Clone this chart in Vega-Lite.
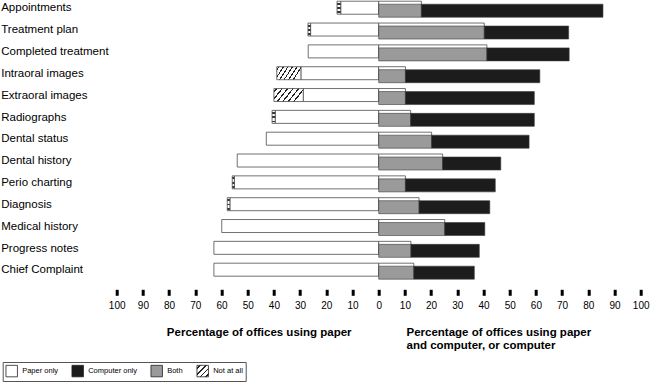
{
  "$schema": "https://vega.github.io/schema/vega-lite/v6.json",
  "width": 524,
  "height": 283.8,
  "autosize": {"type": "none"},
  "padding": {"left": 116.7, "top": 0, "right": 9.3, "bottom": 99.2},
  "background": "white",
  "config": {"view": {"stroke": null}},
  "data": {
    "values": [
      {"item": "Appointments", "category": "Paper only", "value": -14.5},
      {"item": "Appointments", "category": "Not at all", "value": -1.4},
      {"item": "Appointments", "category": "Both", "value": 16.3},
      {"item": "Appointments", "category": "Computer only", "value": 69.3},
      {"item": "Treatment plan", "category": "Paper only", "value": -26},
      {"item": "Treatment plan", "category": "Not at all", "value": -1},
      {"item": "Treatment plan", "category": "Both", "value": 40.3},
      {"item": "Treatment plan", "category": "Computer only", "value": 32.2},
      {"item": "Completed treatment", "category": "Paper only", "value": -26.9},
      {"item": "Completed treatment", "category": "Both", "value": 41.3},
      {"item": "Completed treatment", "category": "Computer only", "value": 31.4},
      {"item": "Intraoral images", "category": "Paper only", "value": -29.7},
      {"item": "Intraoral images", "category": "Not at all", "value": -9.2},
      {"item": "Intraoral images", "category": "Both", "value": 10.2},
      {"item": "Intraoral images", "category": "Computer only", "value": 51.3},
      {"item": "Extraoral images", "category": "Paper only", "value": -28.8},
      {"item": "Extraoral images", "category": "Not at all", "value": -11.2},
      {"item": "Extraoral images", "category": "Both", "value": 10.2},
      {"item": "Extraoral images", "category": "Computer only", "value": 49.2},
      {"item": "Radiographs", "category": "Paper only", "value": -39.5},
      {"item": "Radiographs", "category": "Not at all", "value": -1.2},
      {"item": "Radiographs", "category": "Both", "value": 12.2},
      {"item": "Radiographs", "category": "Computer only", "value": 47.2},
      {"item": "Dental status", "category": "Paper only", "value": -42.9},
      {"item": "Dental status", "category": "Both", "value": 20.2},
      {"item": "Dental status", "category": "Computer only", "value": 37.2},
      {"item": "Dental history", "category": "Paper only", "value": -54},
      {"item": "Dental history", "category": "Both", "value": 24.4},
      {"item": "Dental history", "category": "Computer only", "value": 22.2},
      {"item": "Perio charting", "category": "Paper only", "value": -55.1},
      {"item": "Perio charting", "category": "Not at all", "value": -0.8},
      {"item": "Perio charting", "category": "Both", "value": 10.2},
      {"item": "Perio charting", "category": "Computer only", "value": 34.3},
      {"item": "Diagnosis", "category": "Paper only", "value": -56.8},
      {"item": "Diagnosis", "category": "Not at all", "value": -1},
      {"item": "Diagnosis", "category": "Both", "value": 15.4},
      {"item": "Diagnosis", "category": "Computer only", "value": 27},
      {"item": "Medical history", "category": "Paper only", "value": -59.9},
      {"item": "Medical history", "category": "Both", "value": 25.2},
      {"item": "Medical history", "category": "Computer only", "value": 15.3},
      {"item": "Progress notes", "category": "Paper only", "value": -62.9},
      {"item": "Progress notes", "category": "Both", "value": 12.3},
      {"item": "Progress notes", "category": "Computer only", "value": 26.1},
      {"item": "Chief Complaint", "category": "Paper only", "value": -62.9},
      {"item": "Chief Complaint", "category": "Both", "value": 13.4},
      {"item": "Chief Complaint", "category": "Computer only", "value": 23.1}
    ]
  },
  "resolve": {"scale": {"x": "independent"}, "axis": {"x": "independent"}},
  "layer": [
    {
      "transform": [{"filter": "datum.category !== 'Computer only'"}],
      "mark": {"type": "bar", "height": 13, "yOffset": -3.2, "stroke": "#4d4d4d", "strokeWidth": 0.8},
      "encoding": {
        "y": {
          "field": "item", "type": "nominal",
          "sort": ["Appointments", "Treatment plan", "Completed treatment", "Intraoral images", "Extraoral images", "Radiographs", "Dental status", "Dental history", "Perio charting", "Diagnosis", "Medical history", "Progress notes", "Chief Complaint"],
          "scale": {"paddingInner": 0, "paddingOuter": 0},
          "axis": {"title": null, "domain": false, "ticks": false, "tickSize": 0, "labelAlign": "left", "labelPadding": 116, "labelFont": "Liberation Sans", "labelFontSize": 11.5, "labelColor": "black", "labelBaseline": "alphabetic", "labelOffset": 0.5, "labelLimit": 200}
        },
        "x": {
          "field": "value", "type": "quantitative", "stack": "zero",
          "scale": {"domain": [-100, 100], "nice": false, "zero": false},
          "axis": {
            "orient": "bottom", "offset": 5.5,
            "values": [-100, -90, -80, -70, -60, -50, -40, -30, -20, -10, 0, 10, 20, 30, 40, 50, 60, 70, 80, 90, 100],
            "labelExpr": "abs(datum.value)",
            "domain": false, "grid": false, "ticks": true, "tickSize": 6, "tickWidth": 3, "tickColor": "black",
            "labelPadding": 13.4, "labelBaseline": "alphabetic", "labelFont": "Liberation Sans", "labelFontSize": 10, "labelColor": "black", "labelFlush": false, "labelOverlap": false,
            "title": "Percentage of offices using paper",
            "titleFont": "Liberation Sans", "titleFontWeight": "bold", "titleFontSize": 11.5, "titleColor": "black",
            "titleX": 142, "titleY": 45.7, "titleAlign": "center", "titleBaseline": "alphabetic", "titleAnchor": null
          }
        },
        "order": {"field": "category", "sort": "descending"},
        "fill": {
          "condition": [
            {"test": "datum.category === 'Not at all' && datum.value < -5", "value": {"gradient": "linear", "x1": 0, "y1": 0, "x2": 1, "y2": 0.35, "stops": [
              {"offset": 0, "color": "white"},
              {"offset": 0.06, "color": "white"}, {"offset": 0.06, "color": "#222"}, {"offset": 0.105, "color": "#222"}, {"offset": 0.105, "color": "white"},
              {"offset": 0.227, "color": "white"}, {"offset": 0.227, "color": "#222"}, {"offset": 0.272, "color": "#222"}, {"offset": 0.272, "color": "white"},
              {"offset": 0.393, "color": "white"}, {"offset": 0.393, "color": "#222"}, {"offset": 0.438, "color": "#222"}, {"offset": 0.438, "color": "white"},
              {"offset": 0.56, "color": "white"}, {"offset": 0.56, "color": "#222"}, {"offset": 0.605, "color": "#222"}, {"offset": 0.605, "color": "white"},
              {"offset": 0.727, "color": "white"}, {"offset": 0.727, "color": "#222"}, {"offset": 0.772, "color": "#222"}, {"offset": 0.772, "color": "white"},
              {"offset": 0.893, "color": "white"}, {"offset": 0.893, "color": "#222"}, {"offset": 0.938, "color": "#222"}, {"offset": 0.938, "color": "white"},
              {"offset": 1, "color": "white"}]}},
            {"test": "datum.category === 'Not at all'", "value": {"gradient": "linear", "x1": 0, "y1": 0, "x2": 0, "y2": 1, "stops": [
              {"offset": 0, "color": "white"},
              {"offset": 0.12, "color": "white"}, {"offset": 0.12, "color": "#333"}, {"offset": 0.27, "color": "#333"}, {"offset": 0.27, "color": "white"},
              {"offset": 0.45, "color": "white"}, {"offset": 0.45, "color": "#333"}, {"offset": 0.6, "color": "#333"}, {"offset": 0.6, "color": "white"},
              {"offset": 0.78, "color": "white"}, {"offset": 0.78, "color": "#333"}, {"offset": 0.93, "color": "#333"}, {"offset": 0.93, "color": "white"},
              {"offset": 1, "color": "white"}]}}
          ],
          "value": "white"
        }
      }
    },
    {
      "transform": [{"filter": "datum.category === 'Both' || datum.category === 'Computer only'"}],
      "mark": {"type": "bar", "height": 13, "yOffset": -0.2, "stroke": "#3a3a3a", "strokeWidth": 0.6},
      "encoding": {
        "y": {
          "field": "item", "type": "nominal",
          "sort": ["Appointments", "Treatment plan", "Completed treatment", "Intraoral images", "Extraoral images", "Radiographs", "Dental status", "Dental history", "Perio charting", "Diagnosis", "Medical history", "Progress notes", "Chief Complaint"],
          "scale": {"paddingInner": 0, "paddingOuter": 0},
          "axis": {"title": null, "domain": false, "ticks": false, "tickSize": 0, "labelAlign": "left", "labelPadding": 116, "labelFont": "Liberation Sans", "labelFontSize": 11.5, "labelColor": "black", "labelBaseline": "alphabetic", "labelOffset": 0.5, "labelLimit": 200}
        },
        "x": {
          "field": "value", "type": "quantitative", "stack": "zero",
          "scale": {"domain": [-100, 100], "nice": false, "zero": false},
          "axis": {
            "orient": "bottom", "offset": 5.5,
            "labels": false, "ticks": false, "domain": false, "grid": false,
            "title": ["Percentage of offices using paper", "and computer, or computer"],
            "titleFont": "Liberation Sans", "titleFontWeight": "bold", "titleFontSize": 11.5, "titleColor": "black",
            "titleX": 289.3, "titleY": 45.7, "titleAlign": "left", "titleBaseline": "alphabetic", "titleLineHeight": 13, "titleAnchor": null
          }
        },
        "order": {"field": "category", "sort": "ascending"},
        "fill": {
          "field": "category", "type": "nominal",
          "scale": {
            "domain": ["Paper only", "Computer only", "Both", "Not at all"],
            "range": ["white", "#1c1c1c", "#9a9a9a", {"expr": "{gradient: 'linear', x1: 0, y1: 0, x2: 1, y2: 1, stops: [{offset: 0, color: 'white'}, {offset: 0.1, color: 'white'}, {offset: 0.1, color: '#222'}, {offset: 0.18, color: '#222'}, {offset: 0.18, color: 'white'}, {offset: 0.35, color: 'white'}, {offset: 0.35, color: '#222'}, {offset: 0.43, color: '#222'}, {offset: 0.43, color: 'white'}, {offset: 0.6, color: 'white'}, {offset: 0.6, color: '#222'}, {offset: 0.68, color: '#222'}, {offset: 0.68, color: 'white'}, {offset: 0.85, color: 'white'}, {offset: 0.85, color: '#222'}, {offset: 0.93, color: '#222'}, {offset: 0.93, color: 'white'}, {offset: 1, color: 'white'}]}"}]
          },
          "legend": {
            "title": null, "orient": "none", "legendX": -114, "legendY": 362, "direction": "horizontal",
            "symbolType": "square", "symbolSize": 132, "symbolStrokeColor": "#222", "symbolStrokeWidth": 0.8, "symbolOpacity": 1,
            "labelFont": "Liberation Sans", "labelFontSize": 7.5, "labelColor": "black", "labelOffset": 4,
            "columnPadding": 12, "padding": 2.5, "strokeColor": "#555"
          }
        }
      }
    }
  ]
}
